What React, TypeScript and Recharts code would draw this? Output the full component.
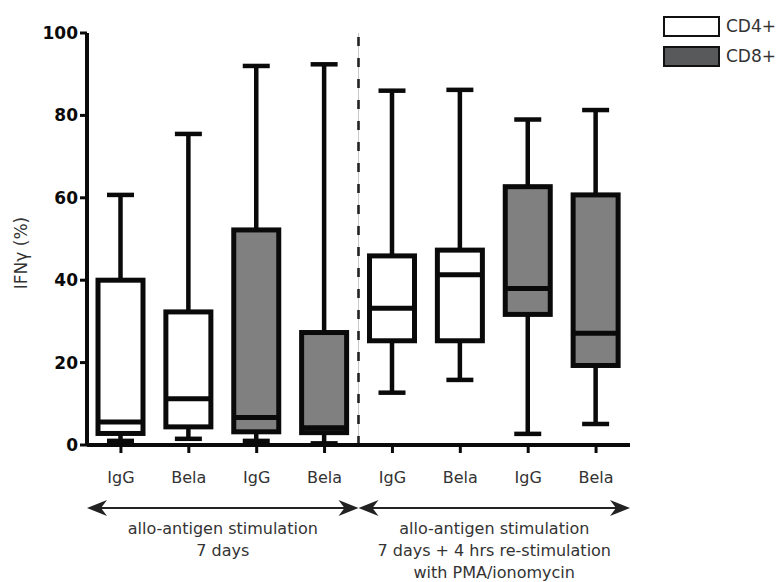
import {
  ComposedChart,
  Bar,
  XAxis,
  YAxis,
  ReferenceLine,
} from "recharts";

// one entry per box, left to right
const ids = ["d7-cd4-igg", "d7-cd4-bela", "d7-cd8-igg", "d7-cd8-bela", "rs-cd4-igg", "rs-cd4-bela", "rs-cd8-igg", "rs-cd8-bela"];
const treatments = ["IgG", "Bela", "IgG", "Bela", "IgG", "Bela", "IgG", "Bela"];
const cellTypes = ["CD4+", "CD4+", "CD8+", "CD8+", "CD4+", "CD4+", "CD8+", "CD8+"];

const mins = [1.0, 1.5, 1.0, 0.4, 12.7, 15.8, 2.7, 5.1];
const q1s = [2.8, 4.4, 3.2, 3.0, 25.3, 25.3, 31.7, 19.3];
const medians = [5.6, 11.2, 6.7, 4.2, 33.2, 41.3, 38.0, 27.1];
const q3s = [40.0, 32.3, 52.2, 27.3, 45.9, 47.3, 62.7, 60.7];
const maxs = [60.7, 75.5, 92.0, 92.4, 86.0, 86.2, 79.0, 81.3];

const yTicks = [0, 20, 40, 60, 80, 100];

const legendItems = ["CD4+", "CD8+"];
const boxFill: Record<string, string> = { "CD4+": "#ffffff", "CD8+": "#808080" };
const legendFill: Record<string, string> = { "CD4+": "#ffffff", "CD8+": "#58595b" };

// condition brackets under the axis, in box-slot units (0..8)
const groupStarts = [0, 4];
const groupEnds = [4, 8];
const groupLines = [
  ["allo-antigen stimulation", "7 days"],
  ["allo-antigen stimulation", "7 days + 4 hrs re-stimulation", "with PMA/ionomycin"],
];
const bracketLevel = -15.3;

const data = ids.map((id, i) => ({
  id,
  slot: i + 0.5,
  label: treatments[i],
  cell: cellTypes[i],
  min: mins[i],
  q1: q1s[i],
  median: medians[i],
  q3: q3s[i],
  max: maxs[i],
}));

const FONT = "'DejaVu Sans', sans-serif";
const INK = "#0a0a0a";

function BoxShape(props: any) {
  const { x, y, width, height, payload } = props;
  if (payload == null) return null;
  const top = Math.min(y, y + height);
  const h = Math.abs(height);
  const span = payload.max - payload.min || 1;
  const py = (v: number) => top + ((payload.max - v) / span) * h;
  const cx = x + width / 2;
  const cap = 27;
  return (
    <g>
      <line x1={cx} x2={cx} y1={py(payload.max)} y2={py(payload.q3)} stroke={INK} strokeWidth={4.5} />
      <line x1={cx - cap / 2} x2={cx + cap / 2} y1={py(payload.max)} y2={py(payload.max)} stroke={INK} strokeWidth={4.5} />
      <line x1={cx} x2={cx} y1={py(payload.q1)} y2={py(payload.min)} stroke={INK} strokeWidth={4.5} />
      <line x1={cx - cap / 2} x2={cx + cap / 2} y1={py(payload.min)} y2={py(payload.min)} stroke={INK} strokeWidth={4.5} />
      <rect
        x={x}
        y={py(payload.q3)}
        width={width}
        height={py(payload.q1) - py(payload.q3)}
        fill={boxFill[payload.cell]}
        stroke={INK}
        strokeWidth={5}
      />
      <line x1={x} x2={x + width} y1={py(payload.median)} y2={py(payload.median)} stroke={INK} strokeWidth={5} />
    </g>
  );
}

function Bracket(props: any) {
  const { x1, x2, y1, idx } = props;
  const head = 20;
  const half = 8;
  const mid = (x1 + x2) / 2;
  const lines: string[] = groupLines[idx];
  return (
    <g>
      <line x1={x1 + 6} x2={x2 - 6} y1={y1} y2={y1} stroke="#222" strokeWidth={2} />
      <path d={`M${x1},${y1} L${x1 + head},${y1 - half} L${x1 + head - 6},${y1} L${x1 + head},${y1 + half} Z`} fill="#222" />
      <path d={`M${x2},${y1} L${x2 - head},${y1 - half} L${x2 - head + 6},${y1} L${x2 - head},${y1 + half} Z`} fill="#222" />
      {lines.map((t, i) => (
        <text key={i} x={mid} y={y1 + 26 + i * 22} textAnchor="middle" fontFamily={FONT} fontSize={16} fill="#333">
          {t}
        </text>
      ))}
    </g>
  );
}

function LegendBox() {
  return (
    <div style={{ position: "absolute", left: 663, top: 11, fontFamily: FONT }}>
      {legendItems.map((name) => (
        <div key={name} style={{ display: "flex", alignItems: "center", height: 30 }}>
          <div
            style={{
              width: 53,
              height: 17,
              border: "2px solid #111",
              background: legendFill[name],
              marginRight: 6,
            }}
          />
          <span style={{ fontSize: 17, color: "#333" }}>{name}</span>
        </div>
      ))}
    </div>
  );
}

export default function App() {
  return (
    <div style={{ position: "absolute", left: 0, top: 0, width: 784, height: 582, background: "#fff" }}>
      <ComposedChart
        width={784}
        height={582}
        data={data}
        margin={{ top: 33, right: 154, bottom: 107, left: 0 }}
      >
        <XAxis
          dataKey="id"
          tickFormatter={(v: string) => treatments[ids.indexOf(v)]}
          interval={0}
          height={30}
          axisLine={{ stroke: INK, strokeWidth: 4 }}
          tickLine={{ stroke: INK, strokeWidth: 3 }}
          tickSize={8}
          tick={{ fill: "#333", fontSize: 16, fontFamily: FONT, dy: 17 }}
        />
        <XAxis xAxisId="slots" dataKey="slot" type="number" domain={[0, 8]} allowDataOverflow hide height={0} />
        <YAxis
          domain={[0, 100]}
          ticks={yTicks}
          width={87}
          axisLine={{ stroke: INK, strokeWidth: 4 }}
          tickLine={{ stroke: INK, strokeWidth: 3 }}
          tickSize={7}
          tick={{ fill: INK, fontSize: 17, fontWeight: 700, fontFamily: FONT }}
          label={{
            value: "IFNγ (%)",
            angle: -90,
            position: "insideLeft",
            dx: 16,
            dy: 14,
            style: { fill: "#333", fontSize: 17, fontFamily: FONT, textAnchor: "middle" },
          }}
        />
        <ReferenceLine xAxisId="slots" x={4} stroke="#c8c8c8" strokeWidth={1} />
        <ReferenceLine xAxisId="slots" x={4} stroke="#222" strokeWidth={2.6} strokeDasharray="9 12" />
        <Bar
          dataKey={(d: any) => [d.min, d.max]}
          barSize={45}
          shape={<BoxShape />}
          isAnimationActive={false}
          legendType="none"
        />
        {groupStarts.map((s, i) => (
          <ReferenceLine
            key={i}
            xAxisId="slots"
            ifOverflow="visible"
            segment={[
              { x: s, y: bracketLevel },
              { x: groupEnds[i], y: bracketLevel },
            ]}
            shape={(p: any) => <Bracket {...p} idx={i} />}
          />
        ))}
      </ComposedChart>
      <LegendBox />
    </div>
  );
}
